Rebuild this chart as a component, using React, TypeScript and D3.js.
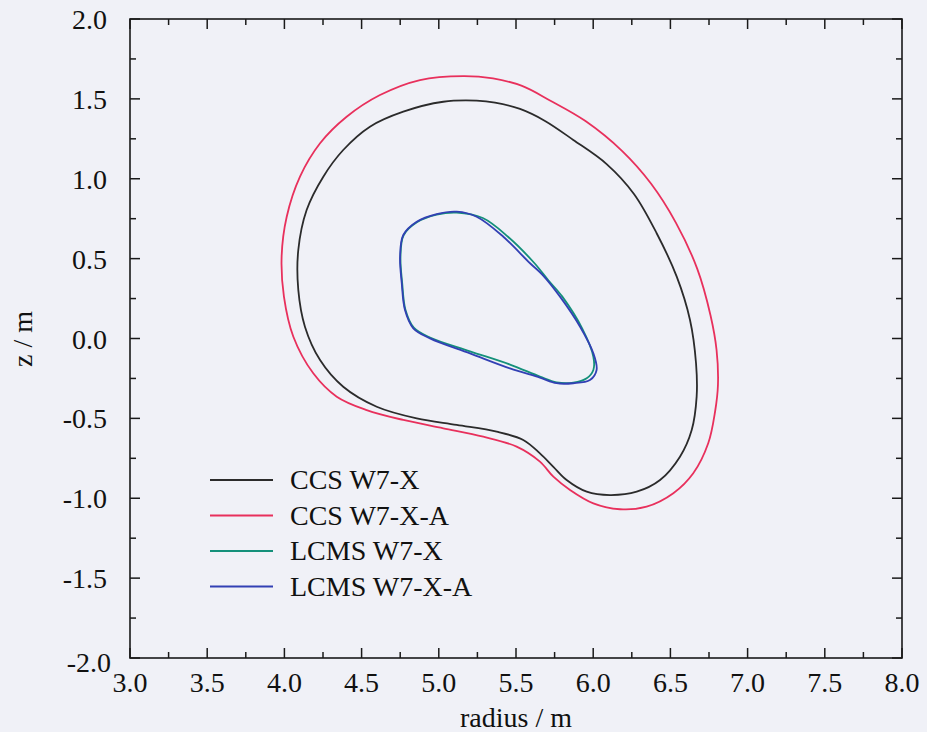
import * as d3 from 'd3';
import React, { useRef, useEffect } from 'react';

// flux surface cross sections, [radius (m), z (m)]
const ccsW7X: [number, number][] = [
  [5.245, 1.489], [5.364, 1.477], [5.526, 1.437], [5.688, 1.362], [5.871, 1.243],
  [6.087, 1.092], [6.264, 0.905], [6.411, 0.659], [6.541, 0.387], [6.627, 0.116],
  [6.666, -0.155], [6.67, -0.364], [6.638, -0.573], [6.562, -0.74], [6.433, -0.886],
  [6.282, -0.959], [6.109, -0.98], [5.958, -0.959], [5.828, -0.886], [5.742, -0.803],
  [5.655, -0.719], [5.547, -0.635], [5.375, -0.583], [5.116, -0.541], [4.857, -0.5],
  [4.598, -0.427], [4.381, -0.302], [4.231, -0.135], [4.133, 0.074], [4.09, 0.304],
  [4.09, 0.554], [4.144, 0.804], [4.252, 1.013], [4.381, 1.18], [4.554, 1.326],
  [4.77, 1.42], [5.029, 1.482],
];

const ccsW7XA: [number, number][] = [
  [5.159, 1.643], [5.351, 1.628], [5.539, 1.581], [5.72, 1.49], [5.95, 1.361],
  [6.188, 1.173], [6.374, 0.97], [6.536, 0.724], [6.674, 0.436], [6.76, 0.144],
  [6.799, -0.072], [6.808, -0.291], [6.789, -0.46], [6.745, -0.656], [6.648, -0.844],
  [6.519, -0.969], [6.346, -1.053], [6.174, -1.069], [6.001, -1.032], [5.85, -0.948],
  [5.742, -0.865], [5.655, -0.771], [5.504, -0.677], [5.288, -0.615], [5.029, -0.562],
  [4.77, -0.51], [4.533, -0.448], [4.339, -0.364], [4.187, -0.218], [4.058, 0.011],
  [3.997, 0.262], [3.982, 0.512], [4.015, 0.762], [4.101, 1.013], [4.231, 1.222],
  [4.403, 1.388], [4.619, 1.524], [4.878, 1.618],
];

const lcmsW7X: [number, number][] = [
  [5.116, 0.788], [5.285, 0.754], [5.448, 0.637], [5.62, 0.471], [5.708, 0.366],
  [5.8, 0.262], [5.93, 0.06], [6.001, -0.114], [6.001, -0.197], [5.958, -0.249],
  [5.871, -0.276], [5.763, -0.274], [5.655, -0.238], [5.461, -0.163], [5.202, -0.08],
  [4.943, 0.006], [4.838, 0.068], [4.784, 0.18], [4.763, 0.346], [4.752, 0.512],
  [4.772, 0.646], [4.858, 0.727], [4.986, 0.775],
];

const lcmsW7XA: [number, number][] = [
  [5.116, 0.794], [5.245, 0.762], [5.418, 0.637], [5.591, 0.471], [5.67, 0.4],
  [5.785, 0.262], [5.915, 0.074], [6.001, -0.093], [6.022, -0.197], [5.979, -0.26],
  [5.871, -0.28], [5.763, -0.28], [5.655, -0.245], [5.461, -0.187], [5.202, -0.093],
  [4.943, 0.001], [4.835, 0.064], [4.781, 0.178], [4.76, 0.346], [4.749, 0.512],
  [4.77, 0.648], [4.857, 0.731], [4.986, 0.779],
];

const seriesNames = ['CCS W7-X', 'CCS W7-X-A', 'LCMS W7-X', 'LCMS W7-X-A'];
const seriesColors = ['#2b2b2b', '#e8305c', '#14907a', '#3240b4'];
const seriesData = [ccsW7X, ccsW7XA, lcmsW7X, lcmsW7XA];

const xTicks = [3.0, 3.5, 4.0, 4.5, 5.0, 5.5, 6.0, 6.5, 7.0, 7.5, 8.0];
const yTicks = [-2.0, -1.5, -1.0, -0.5, 0.0, 0.5, 1.0, 1.5, 2.0];

function App() {
  const svgRef = useRef<SVGSVGElement>(null);

  useEffect(() => {
    const width = 927;
    const height = 732;
    const left = 130;
    const right = 902;
    const top = 19;
    const bottom = 658;
    const font = '"Liberation Serif", "Times New Roman", serif';

    const svg = d3.select(svgRef.current);
    svg.selectAll('*').remove();
    svg.attr('width', width).attr('height', height);

    svg.append('rect').attr('width', width).attr('height', height).attr('fill', '#f0f1f7');

    const x = d3.scaleLinear().domain([3, 8]).range([left, right]);
    const y = d3.scaleLinear().domain([-2, 2]).range([bottom, top]);

    const minorX = d3.range(3, 8.001, 0.25);
    const minorY = d3.range(-2, 2.001, 0.25);
    const isMajor = (v: number) => Math.abs(v * 2 - Math.round(v * 2)) < 1e-6;
    // plain hyphen for negatives, like the original
    const fmt = (v: number) => v.toFixed(1);

    /* frame */
    svg
      .append('rect')
      .attr('x', left)
      .attr('y', top)
      .attr('width', right - left)
      .attr('height', bottom - top)
      .attr('fill', 'none')
      .attr('stroke', '#1a1a1a')
      .attr('stroke-width', 1.6);

    const ticks = svg.append('g').attr('stroke', '#1a1a1a').attr('stroke-width', 1.5);
    minorX.forEach((v) => {
      const len = isMajor(v) ? 10 : 6;
      ticks.append('line').attr('x1', x(v)).attr('x2', x(v)).attr('y1', bottom).attr('y2', bottom - len);
      ticks.append('line').attr('x1', x(v)).attr('x2', x(v)).attr('y1', top).attr('y2', top + len);
    });
    minorY.forEach((v) => {
      const len = isMajor(v) ? 10 : 6;
      ticks.append('line').attr('x1', left).attr('x2', left + len).attr('y1', y(v)).attr('y2', y(v));
      ticks.append('line').attr('x1', right).attr('x2', right - len).attr('y1', y(v)).attr('y2', y(v));
    });

    /* tick labels */
    svg
      .append('g')
      .selectAll('text')
      .data(xTicks)
      .enter()
      .append('text')
      .attr('x', (d) => x(d))
      .attr('y', 692)
      .attr('text-anchor', 'middle')
      .attr('font-family', font)
      .attr('font-size', 28)
      .attr('fill', '#111')
      .text((d) => fmt(d));

    svg
      .append('g')
      .selectAll('text')
      .data(yTicks)
      .enter()
      .append('text')
      .attr('x', (d) => (d === -2 ? 111 : 107))
      .attr('y', (d) => y(d) + (d === -2 ? 14 : 10))
      .attr('text-anchor', 'end')
      .attr('font-family', font)
      .attr('font-size', 28)
      .attr('fill', '#111')
      .text((d) => fmt(d));

    /* axis titles */
    svg
      .append('text')
      .attr('x', 516)
      .attr('y', 727)
      .attr('text-anchor', 'middle')
      .attr('font-family', font)
      .attr('font-size', 28)
      .attr('fill', '#111')
      .text('radius / m');

    svg
      .append('text')
      .attr('transform', `translate(32, 339) rotate(-90)`)
      .attr('text-anchor', 'middle')
      .attr('font-family', font)
      .attr('font-size', 28)
      .attr('fill', '#111')
      .text('z / m');

    /* surfaces */
    const line = d3
      .line<[number, number]>()
      .x((d) => x(d[0]))
      .y((d) => y(d[1]))
      .curve(d3.curveCatmullRomClosed.alpha(0.5));

    svg
      .append('g')
      .selectAll('path')
      .data(seriesData)
      .enter()
      .append('path')
      .attr('fill', 'none')
      .attr('stroke', (d, i) => seriesColors[i])
      .attr('stroke-width', 1.8)
      .attr('d', (d) => line(d));

    /* legend */
    const legend = svg
      .append('g')
      .selectAll('g')
      .data(seriesNames)
      .enter()
      .append('g')
      .attr('transform', (d, i) => `translate(0, ${480 + i * 35.5})`);

    legend
      .append('line')
      .attr('x1', 210)
      .attr('x2', 273)
      .attr('stroke', (d, i) => seriesColors[i])
      .attr('stroke-width', 1.8);

    legend
      .append('text')
      .attr('x', 290)
      .attr('y', 9)
      .attr('font-family', font)
      .attr('font-size', 28)
      .attr('fill', '#111')
      .text((d) => d);
  }, []);

  return (
    <svg ref={svgRef} style={{ position: 'absolute', left: 0, top: 0 }}></svg>
  );
}

export default App;
